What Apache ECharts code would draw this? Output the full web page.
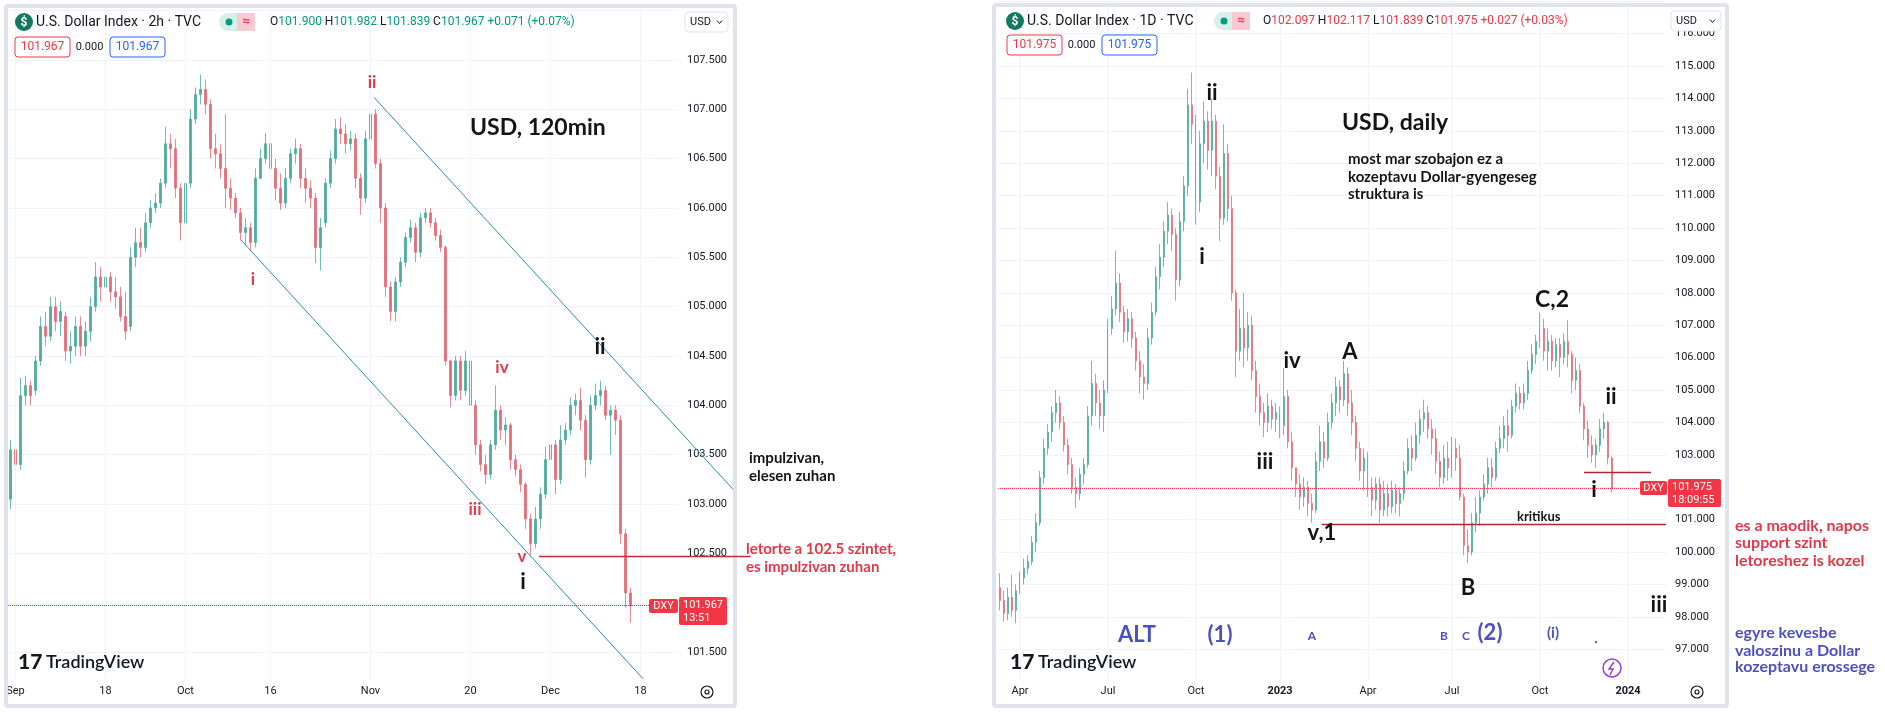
<!DOCTYPE html>
<html>
<head>
<meta charset="utf-8">
<script src="https://cdn.jsdelivr.net/npm/echarts/dist/echarts.min.js"></script>
<style>
  html, body { margin: 0; padding: 0; background: #fff; }
  #chart { width: 1885px; height: 721px; }
</style>
</head>
<body>
<div id="chart"></div>
<script>
// ---- data ----
// left: DXY 2h, one candle per half trading day  [open, close, low, high]
const leftCandles = [
  [103.05,103.55,102.95,103.65],[103.55,103.40,103.20,103.85],[103.40,104.10,103.35,104.28],[104.10,104.20,104.00,104.30],
  [104.20,104.10,104.00,104.25],[104.15,104.45,104.10,104.50],[104.45,104.80,104.40,104.90],[104.80,104.70,104.60,104.95],
  [104.70,105.00,104.65,105.10],[105.00,104.85,104.75,105.10],[104.85,104.95,104.70,105.05],[104.90,104.55,104.45,104.95],
  [104.55,104.60,104.42,104.75],[104.60,104.80,104.50,104.90],[104.80,104.60,104.50,104.90],[104.60,104.75,104.50,104.85],
  [104.75,105.00,104.65,105.10],[105.00,105.30,104.95,105.45],[105.30,105.20,105.05,105.40],[105.20,105.30,105.10,105.40],
  [105.30,105.15,105.05,105.35],[105.15,105.10,104.98,105.30],[105.10,104.90,104.85,105.20],[104.90,104.75,104.66,105.15],
  [104.80,105.50,104.75,105.60],[105.50,105.65,105.40,105.80],[105.65,105.60,105.50,105.80],[105.60,105.85,105.55,105.95],
  [105.85,106.00,105.80,106.08],[106.00,106.05,105.95,106.15],[106.05,106.25,106.00,106.30],[106.25,106.65,106.20,106.82],
  [106.65,106.60,106.40,106.75],[106.60,106.20,106.10,106.70],[106.20,105.85,105.67,106.25],[105.85,106.25,105.80,106.35],
  [106.25,106.90,106.20,107.00],[106.90,107.15,106.85,107.22],[107.15,107.20,107.05,107.35],[107.20,107.05,106.95,107.30],
  [107.05,106.60,106.50,107.10],[106.60,106.55,106.40,106.75],[106.55,106.40,106.30,106.65],[106.40,106.20,106.00,106.95],
  [106.20,106.10,105.98,106.30],[106.10,105.95,105.90,106.15],[105.95,105.75,105.67,106.00],[105.75,105.80,105.62,105.90],
  [105.80,105.65,105.57,105.85],[105.65,106.30,105.60,106.40],[106.30,106.50,106.30,106.60],[106.50,106.65,106.45,106.76],
  [106.65,106.40,106.30,106.70],[106.40,106.20,106.08,106.50],[106.20,106.05,105.98,106.35],[106.05,106.30,106.00,106.40],
  [106.30,106.55,106.25,106.60],[106.55,106.60,106.45,106.70],[106.60,106.30,106.20,106.65],[106.30,106.20,106.05,106.40],
  [106.20,106.10,106.00,106.28],[106.10,105.60,105.44,106.15],[105.60,105.80,105.37,105.90],[105.85,106.25,105.80,106.30],
  [106.25,106.50,106.20,106.58],[106.50,106.80,106.45,106.90],[106.80,106.75,106.65,106.92],[106.75,106.65,106.55,106.85],
  [106.65,106.70,106.58,106.78],[106.70,106.30,106.20,106.75],[106.30,106.10,105.93,106.35],[106.10,106.70,106.05,106.78],
  [106.70,106.95,106.65,107.12],[106.95,106.45,106.40,107.00],[106.45,106.00,105.85,106.50],[106.00,105.20,105.10,106.05],
  [105.20,104.95,104.85,105.25],[104.95,105.25,104.85,105.30],[105.25,105.45,105.20,105.50],[105.45,105.70,105.40,105.75],
  [105.70,105.80,105.65,105.88],[105.80,105.55,105.45,105.85],[105.55,105.90,105.50,105.95],[105.90,105.95,105.85,106.00],
  [105.95,105.85,105.80,106.00],[105.85,105.72,105.67,105.90],[105.72,105.60,105.55,105.78],[105.60,104.45,104.40,105.62],
  [104.45,104.10,103.98,104.46],[104.10,104.45,104.05,104.50],[104.45,104.15,104.05,104.50],[104.15,104.45,104.10,104.55],
  [104.45,104.00,103.98,104.50],[104.00,103.60,103.50,104.05],[103.60,103.40,103.33,103.65],[103.40,103.30,103.20,103.50],
  [103.30,103.60,103.25,103.65],[103.60,103.95,103.55,104.20],[103.95,103.75,103.65,104.00],[103.75,103.80,103.60,103.88],
  [103.80,103.45,103.35,103.82],[103.45,103.35,103.28,103.50],[103.35,103.20,103.12,103.40],[103.20,102.85,102.75,103.22],
  [102.85,102.60,102.48,102.90],[102.60,102.85,102.55,102.97],[102.85,103.10,102.75,103.17],[103.10,103.45,103.05,103.58],
  [103.45,103.60,103.40,103.72],[103.60,103.25,103.10,103.65],[103.25,103.65,103.20,103.80],[103.65,103.75,103.60,103.82],
  [103.75,104.00,103.70,104.08],[104.00,104.05,103.90,104.12],[104.05,103.85,103.75,104.18],[103.85,103.45,103.27,103.90],
  [103.45,104.00,103.40,104.10],[104.00,104.10,103.95,104.22],[104.10,104.15,104.00,104.25],[104.15,103.90,103.85,104.20],
  [103.90,103.95,103.50,104.00],[103.95,103.85,103.70,104.00],[103.85,102.70,102.60,103.90],[102.70,102.10,101.95,102.75],
  [102.10,101.967,101.80,102.15]
];
// right: DXY daily, one candle per ~3 sessions  [open, close, low, high]
const rightCandles = [
  [98.9,98.5,98.2,99.35],[98.5,98.1,97.85,98.8],[98.1,98.6,97.9,98.9],[98.6,98.2,98.0,99.3],[98.2,98.8,97.8,99.0],
  [98.8,99.2,98.7,99.4],[99.2,99.5,99.0,99.8],[99.5,99.7,99.3,99.9],[99.7,100.3,99.6,100.5],[100.3,100.9,100.0,101.2],
  [100.9,102.3,100.8,102.5],[102.3,103.2,102.1,103.5],[103.2,103.7,103.0,103.95],[103.7,104.3,103.4,104.5],[104.3,104.6,104.0,105.0],
  [104.6,104.0,103.8,104.8],[104.0,103.3,103.1,104.2],[103.3,102.7,102.4,103.5],[102.7,102.0,101.8,102.9],[102.0,101.8,101.35,102.3],
  [101.8,102.4,101.6,102.6],[102.4,102.7,102.1,102.9],[102.7,104.2,102.6,104.5],[104.2,105.2,103.9,105.9],[105.2,104.6,104.2,105.5],
  [104.6,104.2,103.8,105.0],[104.2,105.0,103.7,105.3],[105.0,106.9,104.9,107.2],[106.9,107.5,106.7,107.9],[107.5,108.3,107.3,109.3],
  [108.3,107.4,107.1,108.6],[107.4,106.8,106.45,107.6],[106.8,107.2,106.5,107.5],[107.2,106.6,106.3,107.4],[106.6,105.9,105.6,106.8],
  [105.9,105.4,104.9,106.2],[105.4,105.2,104.7,105.8],[105.2,106.6,105.0,106.9],[106.6,107.4,106.4,107.7],[107.4,108.5,107.3,108.8],
  [108.5,109.1,108.1,109.5],[109.1,109.9,108.8,110.2],[109.9,110.4,109.5,110.8],[110.4,109.8,109.3,110.6],[109.8,108.4,107.75,110.0],
  [108.4,110.2,108.2,110.5],[110.2,111.3,109.9,111.6],[111.3,113.8,111.0,114.3],[113.8,113.2,112.6,114.8],[113.2,110.8,110.1,113.5],
  [110.8,112.6,110.5,113.0],[112.6,113.3,112.0,113.9],[113.3,112.4,111.8,113.6],[112.4,113.3,111.6,114.0],[113.3,111.6,111.2,113.5],
  [111.6,110.3,109.6,111.9],[110.3,112.3,110.1,113.2],[112.3,110.6,110.2,112.6],[110.6,108.0,107.75,111.0],[108.0,106.2,105.4,108.1],
  [106.2,106.9,105.9,107.5],[106.9,106.3,105.7,108.0],[106.3,107.0,105.9,107.4],[107.0,105.6,105.3,107.3],[105.6,104.8,104.3,105.9],
  [104.8,104.3,103.9,105.2],[104.3,104.0,103.55,104.6],[104.0,104.5,103.7,104.9],[104.5,104.1,103.8,104.7],[104.1,104.3,103.7,104.6],
  [104.3,103.9,103.5,104.5],[103.9,104.8,103.6,105.68],[104.8,103.4,103.2,105.0],[103.4,102.6,102.2,103.7],[102.6,102.1,101.7,102.6],
  [102.1,101.7,101.3,102.4],[101.7,102.0,101.4,102.3],[102.0,101.5,101.1,102.2],[101.5,101.3,100.9,101.8],[101.3,102.8,101.2,103.1],
  [102.8,103.4,102.5,103.9],[103.4,102.9,102.6,103.7],[102.9,104.0,102.8,104.3],[104.0,104.6,103.8,104.9],[104.6,105.1,104.2,105.4],
  [105.1,104.7,104.3,105.3],[104.7,105.5,104.5,105.9],[105.5,104.6,104.2,105.7],[104.6,104.0,103.6,105.0],[104.0,103.2,102.8,104.2],
  [103.2,102.5,102.2,103.4],[102.5,102.9,101.9,103.2],[102.9,102.0,101.7,103.1],[102.0,101.6,101.1,102.3],[101.6,102.1,101.3,102.3],
  [102.1,101.3,100.9,102.3],[101.3,101.8,101.1,102.2],[101.8,101.4,101.1,102.1],[101.4,101.9,101.2,102.2],[101.9,101.5,101.2,102.1],
  [101.5,101.8,101.1,102.0],[101.8,102.5,101.6,102.8],[102.5,103.2,102.4,103.5],[103.2,102.9,102.5,103.6],[102.9,103.6,102.8,104.0],
  [103.6,104.1,103.35,104.4],[104.1,104.3,103.7,104.7],[104.3,103.8,103.5,104.5],[103.8,103.5,103.0,104.1],[103.5,102.8,102.4,103.8],
  [102.8,102.3,102.0,103.1],[102.3,102.9,102.1,103.3],[102.9,102.6,102.2,103.4],[102.6,103.2,102.3,103.55],[103.2,102.9,102.5,103.5],
  [102.9,101.7,101.6,103.3],[101.7,100.2,99.9,101.8],[100.2,100.0,99.65,100.7],[100.0,100.9,99.9,101.2],[100.9,101.2,100.6,101.7],
  [101.2,101.7,100.8,101.9],[101.7,102.1,101.6,102.4],[102.1,102.6,101.8,102.9],[102.6,102.3,102.0,102.9],[102.3,103.2,102.2,103.4],
  [103.2,103.5,103.05,103.9],[103.5,103.9,103.2,104.2],[103.9,103.6,103.1,104.4],[103.6,104.5,103.5,104.7],[104.5,104.9,104.3,105.2],
  [104.9,104.6,104.4,105.1],[104.6,104.9,104.4,105.2],[104.9,105.6,104.7,105.9],[105.6,106.1,105.5,106.4],[106.1,106.5,105.8,106.7],
  [106.5,106.9,106.3,107.4],[106.9,106.2,105.9,107.2],[106.2,106.5,105.6,106.9],[106.5,105.9,105.6,106.7],[105.9,106.4,105.7,106.6],
  [106.4,106.0,105.4,106.6],[106.0,106.5,105.8,106.75],[106.5,106.1,105.7,107.15],[106.1,105.3,104.9,106.2],[105.3,105.6,105.0,106.0],
  [105.6,104.5,104.3,105.8],[104.5,103.8,103.45,104.6],[103.8,103.3,102.9,104.05],[103.3,103.0,102.75,103.6],[103.0,103.3,102.6,103.5],
  [103.3,103.8,103.1,104.1],[103.8,104.0,103.5,104.3],[104.0,102.9,102.7,104.05],[102.9,101.975,101.839,102.95]
];

const leftSlots = 134;
const rightSlots = 167;
const leftTimeTicks = [[1, 'Sep'], [19, '18'], [35, 'Oct'], [52, '16'], [72, 'Nov'], [92, '20'], [108, 'Dec'], [126, '18']];
const rightTimeTicks = [[5, 'Apr'], [27, 'Jul'], [49, 'Oct'], [70, '2023'], [92, 'Apr'], [113, 'Jul'], [135, 'Oct'], [157, '2024']];
const leftQuote = [101.900, 101.982, 101.839, 101.967, 0.071, 0.07];   // O H L C chg pct
const rightQuote = [102.097, 102.117, 101.839, 101.975, 0.027, 0.03];
const leftCountdown = '13:51';
const rightCountdown = '18:09:55';

// drawings, as [candle index, price]
const leftUpperChannel = [[72.7, 107.12], [144.5, 103.15]];
const leftLowerChannel = [[46.1, 105.675], [126.5, 101.23]];
const leftBreakLine = [[105.7, 102.47], [148, 102.47]];
const rightCriticalLine = [[80.5, 100.85], [166.5, 100.85]];
const rightShortLine = [[146, 102.45], [162.75, 102.45]];

const UI = "Roboto, 'Noto Sans', sans-serif";
const ANN = "Lato, 'Noto Sans', sans-serif";
const UP = '#4eab9d', DOWN = '#e46d79';

const chart = echarts.init(document.getElementById('chart'));

function xAxisFor(gridIndex, n, ticks, offset) {
  const m = {};
  ticks.forEach(t => { m[t[0]] = t[1]; });
  return {
    type: 'category', gridIndex: gridIndex, offset: offset, z: 10,
    data: Array.from({ length: n }, (_, i) => String(i)),
    boundaryGap: true,
    axisLine: { show: false }, axisTick: { show: false }, splitLine: { show: false },
    axisLabel: {
      interval: (i) => m[i] !== undefined,
      formatter: (v, i) => {
        const s = m[i] || '';
        return /^20\d\d$/.test(s) ? '{b|' + s + '}' : s;
      },
      color: '#131722', fontSize: 11, fontFamily: UI, margin: 6,
      rich: { b: { fontWeight: 'bold', fontSize: 11, fontFamily: UI, color: '#131722' } }
    }
  };
}

function yAxisFor(gridIndex, min, max, step, labelMin) {
  return {
    type: 'value', gridIndex: gridIndex, position: 'right', min: min, max: max, interval: step,
    axisLine: { show: false }, axisTick: { show: false },
    splitLine: { lineStyle: { color: '#f0f3fa', width: 1 } },
    axisLabel: {
      showMinLabel: false, showMaxLabel: false, margin: 9,
      color: '#131722', fontSize: 11, fontFamily: UI,
      formatter: (v) => v >= labelMin ? v.toFixed(3) : ''
    }
  };
}

function candleSeries(idx, data, ticks, lastClose) {
  return {
    type: 'candlestick', xAxisIndex: idx, yAxisIndex: idx, data: data,
    barWidth: 2,
    itemStyle: { color: UP, color0: DOWN, borderColor: UP, borderColor0: DOWN, borderWidth: 0.8 },
    markLine: {
      silent: true, symbol: ['none', 'none'], label: { show: false }, animation: false,
      data: ticks.map(t => ({ xAxis: String(t[0]), lineStyle: { color: '#f0f3fa', width: 1, type: 'solid' } }))
        .concat([{ yAxis: lastClose, lineStyle: { color: '#f23645', width: 1, type: 'dotted' } }])
    }
  };
}

chart.setOption({
  animation: false,
  backgroundColor: '#ffffff',
  grid: [
    { left: 8, top: 10.5, width: 670, height: 691, outerBoundsMode: 'none' },
    { left: 998, top: 1.2, width: 668, height: 712.8, outerBoundsMode: 'none' }
  ],
  xAxis: [
    xAxisFor(0, leftSlots, leftTimeTicks, -21.5),
    xAxisFor(1, rightSlots, rightTimeTicks, -33.8)
  ],
  yAxis: [
    yAxisFor(0, 101, 108, 0.5, 101.5),
    yAxisFor(1, 95, 117, 1, 97)
  ],
  series: [
    candleSeries(0, leftCandles, leftTimeTicks, leftQuote[3]),
    candleSeries(1, rightCandles, rightTimeTicks, rightQuote[3])
  ]
});

// ---- overlay: TradingView chrome and the hand-drawn annotations ----
const els = [];
function font(size, weight, family) { return (weight || 'normal') + ' ' + size + 'px ' + (family || ANN); }
function txt(x, y, s, size, fill, o) {
  o = o || {};
  const al = o.align || 'center';
  els.push({
    type: 'text', x: x, y: y, z: o.z || 30, silent: true,
    style: { text: s, fill: fill, font: font(size, o.weight || 'bold', o.family), rich: o.rich,
             textAlign: al, textVerticalAlign: 'middle', align: al, verticalAlign: 'middle' }
  });
}
function rect(x, y, w, h, fill, stroke, lw, r, z) {
  els.push({ type: 'rect', z: z || 25, silent: true, shape: { x: x, y: y, width: w, height: h, r: r || 0 },
             style: { fill: fill, stroke: stroke || null, lineWidth: lw || 0 } });
}
function seg(x1, y1, x2, y2, stroke, lw, z) {
  els.push({ type: 'line', z: z || 20, silent: true, shape: { x1: x1, y1: y1, x2: x2, y2: y2 },
             style: { stroke: stroke, lineWidth: lw } });
}
function toPx(g, pt) {
  const a = chart.convertToPixel({ gridIndex: g }, [0, pt[1]]);
  const b = chart.convertToPixel({ gridIndex: g }, [1, pt[1]]);
  return [a[0] + (b[0] - a[0]) * pt[0], a[1]];
}
function drawing(g, pts, stroke, lw, z) {
  const p = toPx(g, pts[0]), q = toPx(g, pts[1]);
  seg(p[0], p[1], q[0], q[1], stroke, lw, z);
}

// white strip under the plots (time scale area)
rect(8, 680, 670, 41, '#fff', null, 0, 0, 5);
rect(998, 680, 668, 41, '#fff', null, 0, 0, 5);

// panel frames
rect(6, 6, 729, 700, null, '#e0e3eb', 4, 2, 15);
rect(994, 5, 733, 701, null, '#e0e3eb', 4, 2, 15);

function header(x0, pillX, ohlcX, boxX, y, rowY, title, q, numColor, usdX, usdW) {
  els.push({ type: 'circle', z: 30, silent: true, shape: { cx: x0, cy: y, r: 9 }, style: { fill: '#137a5f' } });
  txt(x0, y + 0.5, '$', 12, '#fff', { family: UI });
  txt(x0 + 12, y, title, 14, '#131722', { align: 'left', weight: 'normal', family: UI });
  rect(pillX, y - 9, 36, 18, '#d5efe9', null, 0, 9, 30);
  rect(pillX + 18, y - 9, 18, 18, '#f8c9d4', null, 0, 0, 30);
  rect(pillX + 26, y - 9, 10, 18, '#f8c9d4', null, 0, 5, 30);
  els.push({ type: 'circle', z: 31, silent: true, shape: { cx: pillX + 10, cy: y, r: 3.5 }, style: { fill: '#089981' } });
  txt(pillX + 27, y, '≈', 13, '#f23645', { family: UI });
  const sign = q[4] >= 0 ? '+' : '';
  const s = '{k|O}{v|' + q[0].toFixed(3) + '} {k|H}{v|' + q[1].toFixed(3) + '} {k|L}{v|' + q[2].toFixed(3) +
            '} {k|C}{v|' + q[3].toFixed(3) + '} {v|' + sign + q[4].toFixed(3) + ' (' + sign + q[5].toFixed(2) + '%)}';
  txt(ohlcX, y, s, 12, '#131722', {
    align: 'left', weight: 'normal', family: UI,
    rich: { k: { fill: '#131722', font: font(12, 'normal', UI) }, v: { fill: numColor, font: font(12, 'normal', UI) } }
  });
  rect(boxX, rowY - 10, 55, 20, '#fff', '#f23645', 1, 3, 30);
  txt(boxX + 27.5, rowY, q[3].toFixed(3), 12, '#f23645', { weight: 'normal', family: UI });
  txt(boxX + 74.5, rowY, '0.000', 11, '#131722', { weight: 'normal', family: UI });
  rect(boxX + 95, rowY - 10, 55, 20, '#fff', '#2962ff', 1, 3, 30);
  txt(boxX + 122.5, rowY, q[3].toFixed(3), 12, '#2962ff', { weight: 'normal', family: UI });
  rect(usdX, y - 10, usdW, 20, '#fff', '#e0e3eb', 1, 4, 30);
  txt(usdX + 5, y, 'USD', 11, '#131722', { align: 'left', weight: 'normal', family: UI });
  els.push({ type: 'polyline', z: 31, silent: true,
             shape: { points: [[usdX + usdW - 11, y - 1.5], [usdX + usdW - 8.5, y + 1.5], [usdX + usdW - 6, y - 1.5]] },
             style: { stroke: '#131722', lineWidth: 1, fill: null } });
}
header(24, 219, 270, 15, 22, 47, 'U.S. Dollar Index · 2h · TVC', leftQuote, '#089981', 685, 43);
header(1015, 1214, 1263, 1007, 21, 45, 'U.S. Dollar Index · 1D · TVC', rightQuote, '#f23645', 1671, 50);

function logo(x, y) {
  txt(x, y, '17', 21, '#131722', { align: 'left', weight: '900' });
  txt(x + 28, y, 'TradingView', 18, '#131722', { align: 'left', weight: '600' });
}
logo(18, 662);
logo(1010, 662);

function gear(cx, cy) {
  els.push({ type: 'circle', z: 30, silent: true, shape: { cx: cx, cy: cy, r: 6 }, style: { fill: null, stroke: '#131722', lineWidth: 1.2 } });
  els.push({ type: 'circle', z: 30, silent: true, shape: { cx: cx, cy: cy, r: 2 }, style: { fill: null, stroke: '#131722', lineWidth: 1.2 } });
}
gear(707, 692);
gear(1697, 692);

// last price badges
function badge(g, close, dxyX, boxX, boxW, countdown) {
  const y = toPx(g, [0, close])[1];
  rect(dxyX, y - 7, boxX - dxyX - 1, 14, '#f23645', null, 0, 2, 30);
  txt((dxyX + boxX - 1) / 2, y, 'DXY', 11, '#fff', { weight: 'normal', family: UI });
  rect(boxX, y - 9, boxW, 28, '#f23645', null, 0, 2, 30);
  txt(boxX + 4, y - 1, close.toFixed(3), 11, '#fff', { align: 'left', weight: 'normal', family: UI });
  txt(boxX + 4, y + 12, countdown, 11, '#fff', { align: 'left', weight: 'normal', family: UI });
}
badge(0, leftQuote[3], 649, 679, 48, leftCountdown);
badge(1, rightQuote[3], 1640, 1668, 53, rightCountdown);

// trend / level lines
drawing(0, leftUpperChannel, '#2b8bb0', 1, 18);
drawing(0, leftLowerChannel, '#2b8bb0', 1, 18);
drawing(0, leftBreakLine, '#c62834', 1.5, 18);
drawing(1, rightCriticalLine, '#b3262e', 1.5, 18);
drawing(1, rightShortLine, '#b3262e', 1.5, 18);

// wave counts and notes, left chart
const RED = '#e0394a', BLK = '#141414', BLUE = '#4c50c0';
txt(470, 128, 'USD, 120min', 23, BLK, { align: 'left' });
txt(372, 83, 'ii', 17, RED);
txt(253, 280, 'i', 17, RED);
txt(502, 368, 'iv', 17, RED);
txt(475, 510, 'iii', 17, RED);
txt(522, 557, 'v', 17, RED);
txt(523, 582, 'i', 22, BLK);
txt(600, 347, 'ii', 22, BLK);
txt(749, 458, 'impulzivan,', 15, BLK, { align: 'left' });
txt(749, 476, 'elesen zuhan', 15, BLK, { align: 'left' });
txt(746, 549, 'letorte a 102.5 szintet,', 15, RED, { align: 'left' });
txt(746, 567, 'es impulzivan zuhan', 15, RED, { align: 'left' });

// right chart
txt(1342, 123, 'USD, daily', 23, BLK, { align: 'left' });
txt(1348, 159, 'most mar szobajon ez a', 15, BLK, { align: 'left' });
txt(1348, 177, 'kozeptavu Dollar-gyengeseg', 15, BLK, { align: 'left' });
txt(1348, 194, 'struktura is', 15, BLK, { align: 'left' });
txt(1212, 93, 'ii', 22, BLK);
txt(1202, 257, 'i', 22, BLK);
txt(1292, 361, 'iv', 22, BLK);
txt(1350, 352, 'A', 22, BLK);
txt(1265, 462, 'iii', 22, BLK);
txt(1322, 533, 'v,1', 22, BLK);
txt(1468, 588, 'B', 22, BLK);
txt(1517, 517, 'kritikus', 13, BLK, { align: 'left' });
txt(1552, 300, 'C,2', 23, BLK);
txt(1611, 397, 'ii', 22, BLK);
txt(1594, 490, 'i', 22, BLK);
txt(1659, 605, 'iii', 22, BLK);
txt(1137, 635, 'ALT', 22, BLUE);
txt(1220, 635, '(1)', 22, BLUE);
txt(1312, 636, 'A', 12, BLUE);
txt(1444, 636, 'B', 12, BLUE);
txt(1466, 636, 'C', 12, BLUE);
txt(1490, 633, '(2)', 22, BLUE);
txt(1553, 633, '(i)', 15, BLUE);
txt(1596, 639, '.', 12, BLK);
els.push({ type: 'circle', z: 30, silent: true, shape: { cx: 1612, cy: 668, r: 9 }, style: { fill: '#fff', stroke: '#9b3fd1', lineWidth: 1.5 } });
els.push({ type: 'polyline', z: 31, silent: true,
           shape: { points: [[1614, 662], [1609, 669], [1613, 669], [1610, 675]] },
           style: { stroke: '#9b3fd1', lineWidth: 1.5, fill: null } });

txt(1735, 526, 'es a maodik, napos', 16, RED, { align: 'left' });
txt(1735, 543, 'support szint', 16, RED, { align: 'left' });
txt(1735, 561, 'letoreshez is kozel', 16, RED, { align: 'left' });
txt(1735, 633, 'egyre kevesbe', 16, BLUE, { align: 'left' });
txt(1735, 651, 'valoszinu a Dollar', 16, BLUE, { align: 'left' });
txt(1735, 667, 'kozeptavu erossege', 16, BLUE, { align: 'left' });

chart.setOption({ graphic: { elements: els } });
</script>
</body>
</html>
